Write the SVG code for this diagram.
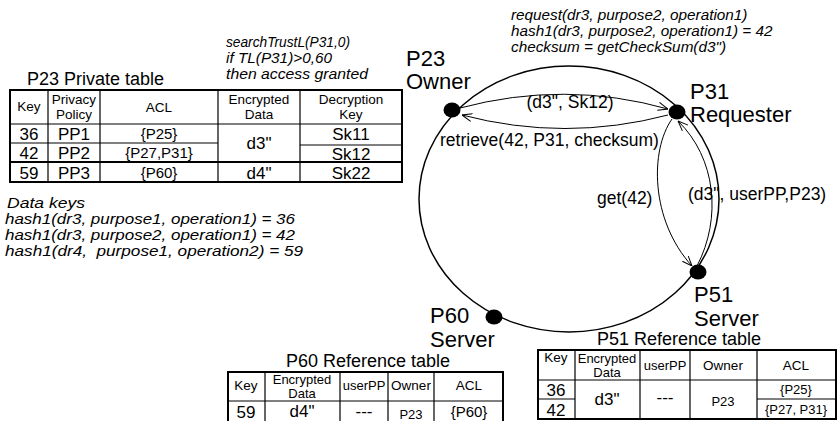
<svg xmlns="http://www.w3.org/2000/svg" width="837" height="421" viewBox="0 0 837 421">
<style>
text{font-family:"Liberation Sans",Arial,sans-serif;fill:#000}
.it{font-style:italic;font-size:15.3px}
.dk{font-style:italic;font-size:15.3px}
.nl{font-size:22px}
.el{font-size:17.5px}
.tt{font-size:18px}
.h{font-size:13.5px;text-anchor:middle}
.hs{font-size:13px;text-anchor:middle}
.d{font-size:17px;text-anchor:middle}
.ds{font-size:15px;text-anchor:middle}
.ob{fill:none;stroke:#000;stroke-width:2}
.ln{fill:none;stroke:#000;stroke-width:1.2}
.edge{fill:none;stroke:#000;stroke-width:1;marker-end:url(#arr)}
.ring{fill:none;stroke:#000;stroke-width:1.5}
.dot{fill:#000}
</style>
<defs>
<marker id="arr" viewBox="0 0 10 10" refX="10" refY="5" markerWidth="10" markerHeight="10" markerUnits="userSpaceOnUse" orient="auto"><path d="M0,1 L10,5 L0,9" fill="none" stroke="#000" stroke-width="1"/></marker>
</defs>
<rect width="837" height="421" fill="#fff"/>

<g id="ring"><ellipse class="ring" cx="569" cy="199" rx="150" ry="133"/></g>

<g id="connectors">
<path class="edge" d="M460,108 Q565,80 668,109"/>
<path class="edge" d="M668,115 Q565,142 462,115"/>
<path class="edge" d="M672,119 C650,150 650,220 692,266"/>
<path class="edge" d="M697,266 C722,218 716,158 678,121"/>
<text class="el" x="570" y="108" text-anchor="middle">(d3", Sk12)</text>
<text class="el" x="440" y="146">retrieve(42, P31, checksum)</text>
<text class="el" x="597" y="204">get(42)</text>
<text class="el" x="688" y="200">(d3", userPP,P23)</text>
</g>

<g id="P23"><ellipse class="dot" cx="452" cy="110" rx="8.5" ry="7.5"/>
<text class="nl" x="406" y="66">P23</text><text class="nl" x="406" y="89">Owner</text></g>
<g id="P31"><ellipse class="dot" cx="677" cy="112" rx="8.5" ry="7.5"/>
<text class="nl" x="690" y="99">P31</text><text class="nl" x="690" y="122">Requester</text></g>
<g id="P51"><ellipse class="dot" cx="698" cy="272" rx="8.5" ry="7.5"/>
<text class="nl" x="694" y="302">P51</text><text class="nl" x="694" y="326">Server</text></g>
<g id="P60"><ellipse class="dot" cx="494" cy="317" rx="8.5" ry="7.5"/>
<text class="nl" x="430" y="323">P60</text><text class="nl" x="430" y="347">Server</text></g>

<g id="trust-note">
<text class="it" x="226" y="47" textLength="124" lengthAdjust="spacingAndGlyphs">searchTrustL(P31,0)</text>
<text class="it" x="226" y="63" textLength="106" lengthAdjust="spacingAndGlyphs">if TL(P31)&gt;0,60</text>
<text class="it" x="226" y="79" textLength="142" lengthAdjust="spacingAndGlyphs">then access granted</text>
</g>
<g id="request-note">
<text class="it" x="511" y="20">request(dr3, purpose2, operation1)</text>
<text class="it" x="511" y="36">hash1(dr3, purpose2, operation1) = 42</text>
<text class="it" x="511" y="52">checksum = getCheckSum(d3")</text>
</g>
<g id="data-keys">
<text class="dk" x="7" y="208" textLength="78" lengthAdjust="spacingAndGlyphs">Data keys</text>
<text class="dk" x="5" y="224" textLength="290" lengthAdjust="spacingAndGlyphs">hash1(dr3, purpose1, operation1) = 36</text>
<text class="dk" x="5" y="240" textLength="290" lengthAdjust="spacingAndGlyphs">hash1(dr3, purpose2, operation1) = 42</text>
<text class="dk" x="5" y="256" textLength="298" lengthAdjust="spacingAndGlyphs" xml:space="preserve">hash1(dr4,  purpose1, operation2) = 59</text>
</g>

<g id="P23-table">
<text class="tt" x="27" y="85">P23 Private table</text>
<rect class="ob" x="10" y="90" width="392" height="92"/>
<path class="ln" d="M48,90V182 M100,90V182 M218,90V182 M300,90V182 M10,124H402 M10,143H218 M300,145H402"/>
<path class="ob" d="M10,162H402"/>
<text class="h" x="29" y="111">Key</text>
<text class="h" x="74" y="104">Privacy</text><text class="h" x="74" y="119">Policy</text>
<text class="h" x="159" y="112">ACL</text>
<text class="h" x="259" y="104">Encrypted</text><text class="h" x="259" y="119">Data</text>
<text class="h" x="351" y="104">Decryption</text><text class="h" x="351" y="119">Key</text>
<text class="d" x="29" y="140">36</text><text class="d" x="74" y="140">PP1</text><text class="ds" x="159" y="139">{P25}</text>
<text class="d" x="29" y="159">42</text><text class="d" x="74" y="159">PP2</text><text class="ds" x="159" y="158">{P27,P31}</text>
<text class="d" x="29" y="179">59</text><text class="d" x="74" y="179">PP3</text><text class="ds" x="159" y="178">{P60}</text>
<text class="d" x="259" y="149">d3"</text><text class="d" x="259" y="179">d4"</text>
<text class="d" x="351" y="140">Sk11</text><text class="d" x="351" y="160">Sk12</text><text class="d" x="351" y="179">Sk22</text>
</g>

<g id="P60-table">
<text class="tt" x="286" y="367" font-size="17">P60 Reference table</text>
<path class="ob" d="M228,423V372H503V423"/>
<path class="ln" d="M265,372V421 M340,372V421 M388,372V421 M434,372V421 M228,401H503"/>
<text class="h" x="246" y="390">Key</text>
<text class="hs" x="302" y="384">Encrypted</text><text class="hs" x="302" y="398">Data</text>
<text class="hs" x="364" y="390">userPP</text>
<text class="h" x="411" y="390">Owner</text>
<text class="h" x="469" y="390">ACL</text>
<text class="d" x="246" y="418">59</text><text class="d" x="302" y="417">d4"</text>
<text class="d" x="364" y="417">---</text><text class="hs" x="411" y="419">P23</text>
<text class="ds" x="469" y="417">{P60}</text>
</g>

<g id="P51-table">
<text class="tt" x="597" y="345">P51 Reference table</text>
<rect class="ob" x="538" y="350" width="298" height="69"/>
<path class="ln" d="M575,350V419 M640,350V419 M690,350V419 M757,350V419 M538,380H836 M538,399H575 M757,399H836"/>
<text class="h" x="556" y="362">Key</text>
<text class="hs" x="607" y="363">Encrypted</text><text class="hs" x="607" y="377">Data</text>
<text class="hs" x="665" y="370">userPP</text>
<text class="h" x="723" y="370">Owner</text>
<text class="h" x="796" y="370">ACL</text>
<text class="d" x="556" y="396">36</text><text class="d" x="556" y="416">42</text>
<text class="d" x="607" y="405">d3"</text><text class="d" x="665" y="403">---</text>
<text class="hs" x="723" y="406">P23</text>
<text class="hs" x="796" y="394">{P25}</text><text class="hs" x="796" y="414">{P27, P31}</text>
</g>
</svg>
